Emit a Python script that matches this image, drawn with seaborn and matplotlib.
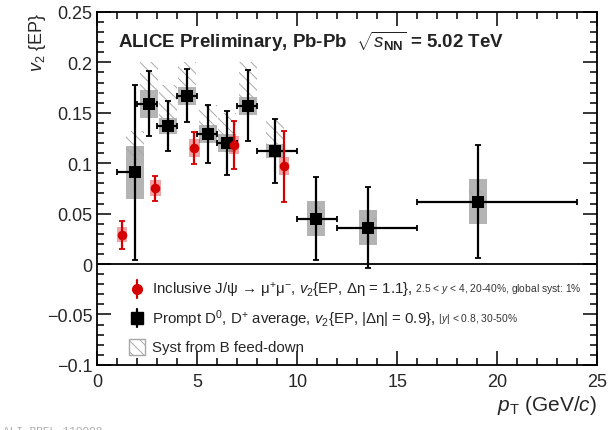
import numpy as np
import pandas as pd
import matplotlib
matplotlib.use('Agg')
import matplotlib.pyplot as plt
from matplotlib.patches import Rectangle
from matplotlib.ticker import MultipleLocator
import seaborn as sns

# --- prompt D0, D+ average (30-50%) ---
d_pt = [1.87, 2.58, 3.54, 4.49, 5.53, 6.48, 7.53, 8.91, 10.93, 13.54, 19.04]
d_pt_lo = [1, 2, 3, 4, 5, 6, 7, 8, 10, 12, 16]
d_pt_hi = [2, 3, 4, 5, 6, 7, 8, 10, 12, 16, 24]
d_v2 = [0.091, 0.159, 0.137, 0.167, 0.129, 0.120, 0.157, 0.112, 0.045, 0.036, 0.062]
d_stat = [0.087, 0.032, 0.025, 0.026, 0.029, 0.032, 0.035, 0.032, 0.041, 0.040, 0.056]
d_syst = [0.026, 0.014, 0.008, 0.009, 0.0085, 0.0085, 0.009, 0.007, 0.0176, 0.0173, 0.022]
d_fd_lo = [0.103, 0.168, 0.145, 0.172, 0.135, 0.124, 0.163, 0.118, 0.050, 0.041, 0.068]
d_fd_hi = [0.132, 0.200, 0.178, 0.200, 0.158, 0.150, 0.200, 0.145, 0.057, 0.046, 0.074]

# --- inclusive J/psi (20-40%) ---
j_pt = [1.24, 2.91, 4.85, 6.84, 9.34]
j_v2 = [0.029, 0.075, 0.115, 0.118, 0.097]
j_stat = [0.014, 0.012, 0.016, 0.024, 0.035]
j_syst = [0.0075, 0.008, 0.009, 0.0085, 0.009]

dmes = pd.DataFrame({'pt': d_pt, 'v2': d_v2})
jpsi = pd.DataFrame({'pt': j_pt, 'v2': j_v2})

sns.set_style("ticks")
plt.rcParams['font.family'] = ['Liberation Sans', 'DejaVu Sans']
plt.rcParams['mathtext.fontset'] = 'custom'
plt.rcParams['mathtext.rm'] = 'Liberation Sans'
plt.rcParams['mathtext.it'] = 'Liberation Sans:italic'
plt.rcParams['mathtext.bf'] = 'Liberation Sans:bold'
plt.rcParams['hatch.linewidth'] = 0.7

RED = '#d40000'
HATCH = '#a8a8a8'
fig = plt.figure(figsize=(6.08, 4.31), dpi=100)
ax = fig.add_axes([0.160, 0.151, 0.822, 0.819])

# syst boxes D
for pt, v, s in zip(d_pt, d_v2, d_syst):
    ax.add_patch(Rectangle((pt - 0.45, v - s), 0.9, 2 * s, facecolor='#b4b4b4',
                           edgecolor='none', zorder=1))
# feed-down hatch
for pt, lo, hi in zip(d_pt, d_fd_lo, d_fd_hi):
    ax.add_patch(Rectangle((pt - 0.45, lo), 0.9, hi - lo, fill=False, hatch='\\\\\\',
                           edgecolor=HATCH, linewidth=0, zorder=2))
# syst boxes J/psi
for pt, v, s in zip(j_pt, j_v2, j_syst):
    ax.add_patch(Rectangle((pt - 0.27, v - s), 0.54, 2 * s, facecolor=RED, alpha=0.35,
                           edgecolor='none', zorder=3))

xerr = [np.array(d_pt) - np.array(d_pt_lo), np.array(d_pt_hi) - np.array(d_pt)]
ax.errorbar(d_pt, d_v2, yerr=d_stat, xerr=xerr, fmt='none', ecolor='black',
            elinewidth=1.6, capsize=2, capthick=1.3, zorder=4)
ax.errorbar(j_pt, j_v2, yerr=j_stat, fmt='none', ecolor=RED,
            elinewidth=1.6, capsize=2, capthick=1.3, zorder=5)
sns.scatterplot(data=dmes, x='pt', y='v2', marker='s', s=80, color='black',
                edgecolor='black', linewidth=0, ax=ax, zorder=6)
sns.scatterplot(data=jpsi, x='pt', y='v2', marker='o', s=48, color=RED,
                edgecolor=RED, linewidth=0, ax=ax, zorder=7)

ax.axhline(0, color='black', lw=1.3, zorder=0)

ax.set_xlim(0, 25)
ax.set_ylim(-0.1, 0.25)
ax.xaxis.set_major_locator(MultipleLocator(5))
ax.xaxis.set_minor_locator(MultipleLocator(1))
ax.yaxis.set_minor_locator(MultipleLocator(0.01))
ax.set_yticks([-0.1, -0.05, 0, 0.05, 0.1, 0.15, 0.2, 0.25])
ax.set_yticklabels(['\u22120.1', '\u22120.05', '0', '0.05', '0.1', '0.15', '0.2', '0.25'])
ax.tick_params(which='both', direction='in', top=True, right=True, labelsize=13,
               width=1.1, color='black')
ax.tick_params(which='major', length=10)
ax.tick_params(which='minor', length=5)
ax.tick_params(axis='x', pad=6)
for sp in ax.spines.values():
    sp.set_linewidth(1.3)
    sp.set_color('black')

ax.set_xlabel(r'$p_{\rm T}$ (GeV/$c$)', fontsize=15, loc='right', labelpad=2)
ax.set_ylabel(r'$v_{2}$ {EP}', fontsize=13, loc='top', labelpad=-1)

ax.text(0.042, 0.918, r'ALICE Preliminary, Pb-Pb  $\sqrt{s_{\mathbf{NN}}}$ = 5.02 TeV',
        transform=ax.transAxes, fontsize=13.5, fontweight='bold', color='#222222',
        va='center', ha='left')

# legend drawn by hand
leg_y = [0.215, 0.133, 0.051]
mx, tx = 0.080, 0.110
ax.plot([mx, mx], [leg_y[0] - 0.025, leg_y[0] + 0.025], color=RED, lw=1.6,
        transform=ax.transAxes, clip_on=False)
ax.plot([mx], [leg_y[0]], marker='o', ms=7, color=RED, transform=ax.transAxes)
ax.plot([mx, mx], [leg_y[1] - 0.025, leg_y[1] + 0.025], color='black', lw=1.6,
        transform=ax.transAxes, clip_on=False)
ax.plot([mx], [leg_y[1]], marker='s', ms=8, color='black', transform=ax.transAxes)
ax.add_patch(Rectangle((mx - 0.016, leg_y[2] - 0.022), 0.032, 0.044, fill=False,
                       hatch='\\\\\\', edgecolor=HATCH, linewidth=1.0,
                       transform=ax.transAxes))

t1 = ax.text(tx, leg_y[0],
             'Inclusive J/\u03c8 \u2192 \u03bc$^{+}$\u03bc$^{-}$, $v_{2}${EP, \u0394\u03b7 = 1.1},',
             transform=ax.transAxes, fontsize=10.8, va='center', ha='left')
ax.annotate(r' 2.5 < $y$ < 4, 20-40%, global syst: 1%', xy=(1, 0.18), xycoords=t1,
            fontsize=7.4, va='bottom', ha='left', color='#333333')
t2 = ax.text(tx, leg_y[1],
             'Prompt D$^{0}$, D$^{+}$ average, $v_{2}${EP, |\u0394\u03b7| = 0.9},',
             transform=ax.transAxes, fontsize=10.8, va='center', ha='left')
ax.annotate(r' |$y$| < 0.8, 30-50%', xy=(1, 0.18), xycoords=t2,
            fontsize=7.4, va='bottom', ha='left', color='#333333')
ax.text(tx, leg_y[2], 'Syst from B feed-down', transform=ax.transAxes,
        fontsize=10.8, va='center', ha='left')

fig.text(0.005, 0.0, 'ALI-PREL-110008', fontsize=8, color='#aaaaaa',
         family='Liberation Mono', va='center', ha='left')

fig.savefig('out.png', dpi=100)
